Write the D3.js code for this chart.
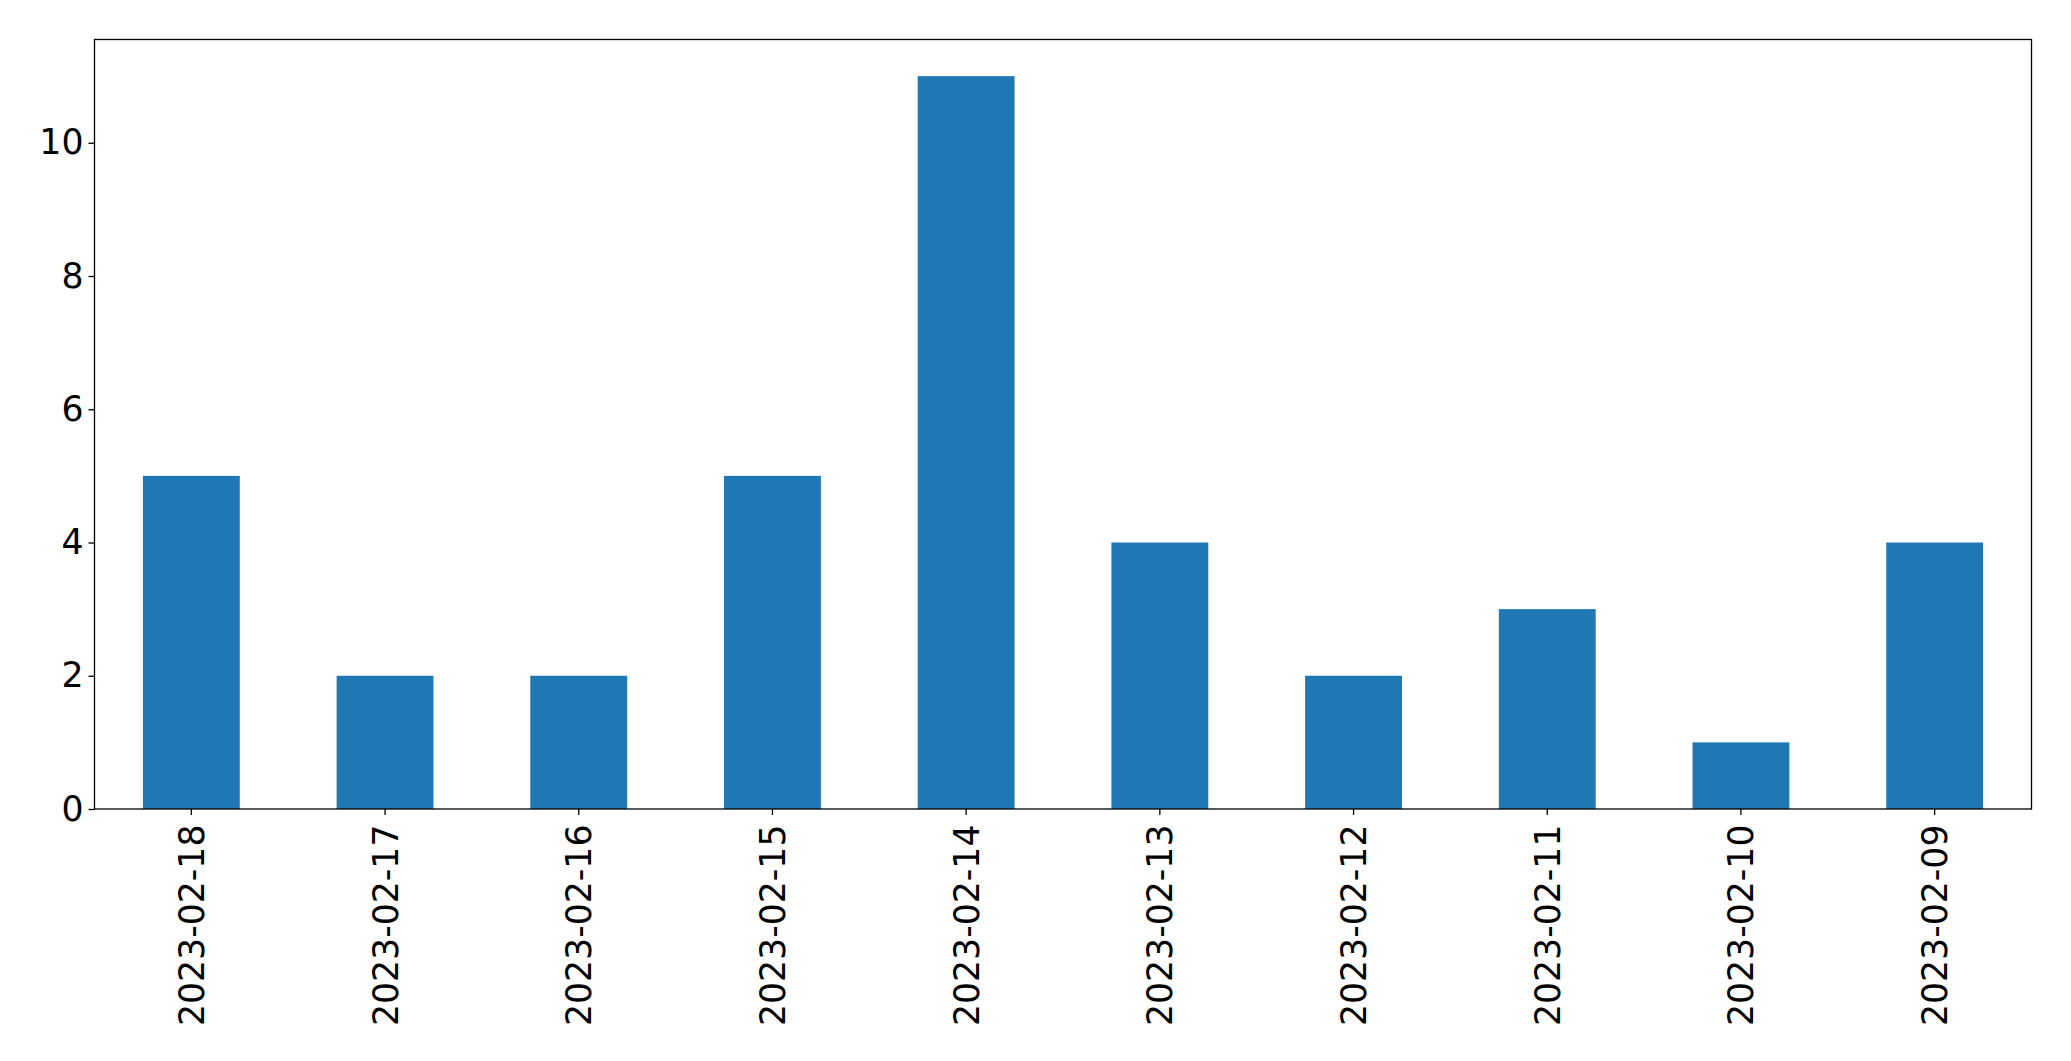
<!DOCTYPE html>
<html lang="en">
<head>
    <meta charset="UTF-8">
    <title>Counts by date</title>
    <script src="https://cdnjs.cloudflare.com/ajax/libs/d3/7.8.5/d3.min.js"></script>
    <style>
        body { margin: 0; background: #fff; }
        text { font-family: "DejaVu Sans", sans-serif; fill: #000; }
        .tick line { stroke: #000; stroke-width: 1.3px; }
    </style>
</head>
<body>
    <div id="chart"></div>
    <script>
        // values
        const dates = ["2023-02-18", "2023-02-17", "2023-02-16", "2023-02-15", "2023-02-14",
                       "2023-02-13", "2023-02-12", "2023-02-11", "2023-02-10", "2023-02-09"];
        const counts = [5, 2, 2, 5, 11, 4, 2, 3, 1, 4];
        const yTicks = [0, 2, 4, 6, 8, 10];

        const width = 2071, height = 1061;
        const margin = { top: 39.5, right: 39.5, bottom: 252, left: 94.5 };
        const w = width - margin.left - margin.right;
        const h = height - margin.top - margin.bottom;
        const fontSize = "34.7px";

        const svg = d3.select("#chart").append("svg")
            .attr("width", width)
            .attr("height", height);

        const g = svg.append("g")
            .attr("transform", "translate(" + margin.left + "," + margin.top + ")");

        // pandas-style bar: width 0.5 on a band of 1, xlim -0.5..n-0.5
        const x = d3.scaleBand().domain(dates).range([0, w]).paddingInner(0.5).paddingOuter(0.25);
        const y = d3.scaleLinear().domain([0, d3.max(counts) * 1.05]).range([h, 0]);

        g.selectAll(".bar")
            .data(counts)
            .enter().append("rect")
            .attr("class", "bar")
            .attr("x", (d, i) => x(dates[i]))
            .attr("width", x.bandwidth())
            .attr("y", d => y(d))
            .attr("height", d => h - y(d))
            .attr("fill", "#1f77b4");

        // x axis
        const xAxis = g.append("g")
            .attr("transform", "translate(0," + h + ")")
            .call(d3.axisBottom(x).tickSize(6).tickSizeOuter(0));
        xAxis.select(".domain").remove();
        xAxis.selectAll("text")
            .style("font-size", fontSize)
            .attr("transform", "rotate(-90)")
            .attr("text-anchor", "end")
            .attr("x", -15.5)
            .attr("y", 0)
            .attr("dy", "0.36em");

        // y axis
        const yAxis = g.append("g")
            .call(d3.axisLeft(y).tickValues(yTicks).tickSize(6).tickPadding(5));
        yAxis.select(".domain").remove();
        yAxis.selectAll("text").style("font-size", fontSize);

        // frame
        g.append("rect")
            .attr("width", w)
            .attr("height", h)
            .attr("fill", "none")
            .attr("stroke", "#000")
            .attr("stroke-width", 1.3);
    </script>
</body>
</html>
